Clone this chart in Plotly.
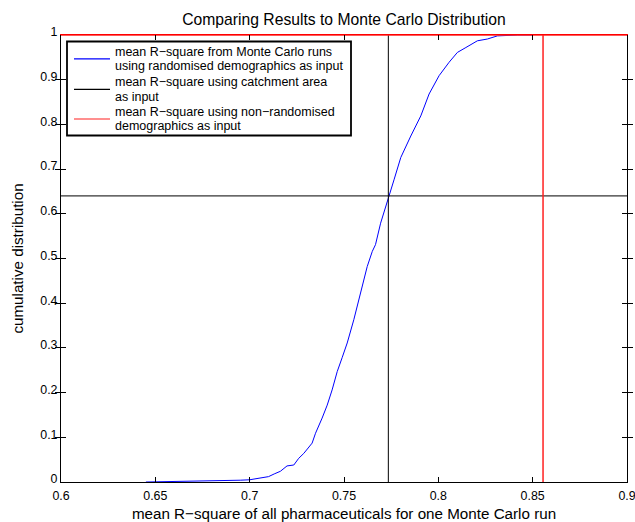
import plotly.graph_objects as go

# Monte Carlo CDF
cdf_x = [0.645, 0.66, 0.675, 0.69, 0.695, 0.700, 0.705, 0.710, 0.713, 0.7163, 0.7198,
         0.7234, 0.7260, 0.7287, 0.7331, 0.7349, 0.7384, 0.7411, 0.7437, 0.7464, 0.7490,
         0.7517, 0.7552, 0.7579, 0.7605, 0.7623, 0.7650, 0.7667, 0.7694, 0.7720, 0.7738,
         0.7765, 0.7801, 0.7854, 0.7907, 0.7951, 0.8004, 0.8057, 0.8101, 0.8146, 0.8207,
         0.8260, 0.8313, 0.842, 0.85]
cdf_y = [0, 0.001, 0.001, 0.002, 0.004, 0.005, 0.008, 0.012, 0.018, 0.024, 0.036,
         0.038, 0.053, 0.064, 0.087, 0.109, 0.143, 0.172, 0.206, 0.247, 0.278,
         0.311, 0.363, 0.408, 0.452, 0.482, 0.516, 0.531, 0.579, 0.617, 0.639,
         0.676, 0.726, 0.774, 0.819, 0.868, 0.909, 0.939, 0.961, 0.972, 0.987,
         0.991, 0.998, 1.0, 1.0]

catchment_r2 = 0.7735
catchment_pct = 0.64
nonrandom_r2 = 0.8555
nonrandom_pct = 1.0

x_range = [0.6, 0.9]
y_range = [0, 1]
x_ticks = [0.6, 0.65, 0.7, 0.75, 0.8, 0.85, 0.9]
x_tick_labels = ["0.6", "0.65", "0.7", "0.75", "0.8", "0.85", "0.9"]
y_ticks = [0, 0.1, 0.2, 0.3, 0.4, 0.5, 0.6, 0.7, 0.8, 0.9, 1]
y_tick_labels = ["0", "0.1", "0.2", "0.3", "0.4", "0.5", "0.6", "0.7", "0.8", "0.9", "1"]

legend_lines = [
    ["mean R\u2212square from Monte Carlo runs", "using randomised demographics as input"],
    ["mean R\u2212square using catchment area", "as input"],
    ["mean R\u2212square using non\u2212randomised", "demographics as input"],
]
series_colors = ["#0000ff", "#000000", "#ff2020"]

FONT = "Liberation Sans, Arial, Helvetica, sans-serif"
W, H = 635, 522
L, R, T, B = 61, 627, 35, 482  # plot area in pixels


def px(xp):
    return (xp - L) / (R - L)


def py(yp):
    return (B - yp) / (B - T)


fig = go.Figure()
fig.add_trace(go.Scatter(x=cdf_x, y=cdf_y, mode="lines",
                         name=" ".join(legend_lines[0]),
                         line=dict(color=series_colors[0], width=1)))
fig.add_trace(go.Scatter(x=[catchment_r2, catchment_r2, None, x_range[0], x_range[1]],
                         y=[y_range[0], y_range[1], None, catchment_pct, catchment_pct],
                         mode="lines", name=" ".join(legend_lines[1]),
                         line=dict(color=series_colors[1], width=1)))
fig.add_trace(go.Scatter(x=[nonrandom_r2, nonrandom_r2, None, x_range[0], x_range[1]],
                         y=[y_range[0], y_range[1], None, nonrandom_pct, nonrandom_pct],
                         mode="lines", name=" ".join(legend_lines[2]),
                         line=dict(color=series_colors[2], width=1.5)))
# invisible trace to carry the top axis (red top border as in the original)
fig.add_trace(go.Scatter(x=[x_range[0]], y=[y_range[0]], xaxis="x2", mode="lines",
                         showlegend=False, hoverinfo="skip", line=dict(width=0)))

axis_common = dict(showgrid=False, zeroline=False, showline=True,
                   linewidth=1, ticks="inside", ticklen=5,
                   tickcolor="black", automargin=False)
tick_font = dict(family=FONT, size=12.4, color="black")

# manual legend (box, samples, text) to match the compact original legend
shapes = [dict(type="rect", xref="paper", yref="paper",
               x0=px(67), x1=px(351), y0=py(41.5), y1=py(135.5),
               line=dict(color="black", width=1.8), fillcolor="white", layer="above")]
annotations = []
entry_centers = [58.8, 89.3, 119.0]
for i, (lines, col) in enumerate(zip(legend_lines, series_colors)):
    yc = entry_centers[i]
    shapes.append(dict(type="line", xref="paper", yref="paper",
                       x0=px(74), x1=px(110), y0=py(yc), y1=py(yc),
                       line=dict(color=col, width=1.2), layer="above"))
    for j, t in enumerate(lines):
        annotations.append(dict(text=t, xref="paper", yref="paper",
                                x=px(113), y=py(yc - 7.3 + 14.6 * j),
                                xanchor="left", yanchor="middle", showarrow=False,
                                font=dict(family=FONT, size=12.5, color="black")))

fig.update_layout(
    width=W, height=H,
    margin=dict(l=L, r=W - R, t=T, b=H - B),
    paper_bgcolor="white", plot_bgcolor="white",
    title=dict(text="Comparing Results to Monte Carlo Distribution",
               x=(L + R) / 2 / W, xanchor="center", y=1 - 20 / H, yanchor="middle",
               font=dict(family=FONT, size=15.7, color="black")),
    xaxis=dict(range=x_range, tickvals=x_ticks, ticktext=x_tick_labels, mirror=False,
               linecolor="black", tickfont=tick_font, ticklabeloverflow="allow",
               ticklabelstandoff=2,
               title=dict(text="mean R\u2212square of all pharmaceuticals for one Monte Carlo run",
                          font=dict(family=FONT, size=15.2, color="black"), standoff=10),
               **axis_common),
    xaxis2=dict(range=x_range, tickvals=x_ticks, overlaying="x", side="top", anchor="y",
                showticklabels=False, linecolor="#ff0000", **axis_common),
    yaxis=dict(range=y_range, tickvals=y_ticks, ticktext=y_tick_labels, mirror="allticks",
               linecolor="black", tickfont=tick_font, ticklabeloverflow="allow",
               ticklabelshift=-3,
               title=dict(text="cumulative distribution",
                          font=dict(family=FONT, size=15.2, color="black"), standoff=12),
               **axis_common),
    shapes=shapes,
    annotations=annotations,
    showlegend=False,
)

fig.write_html("out.html")
